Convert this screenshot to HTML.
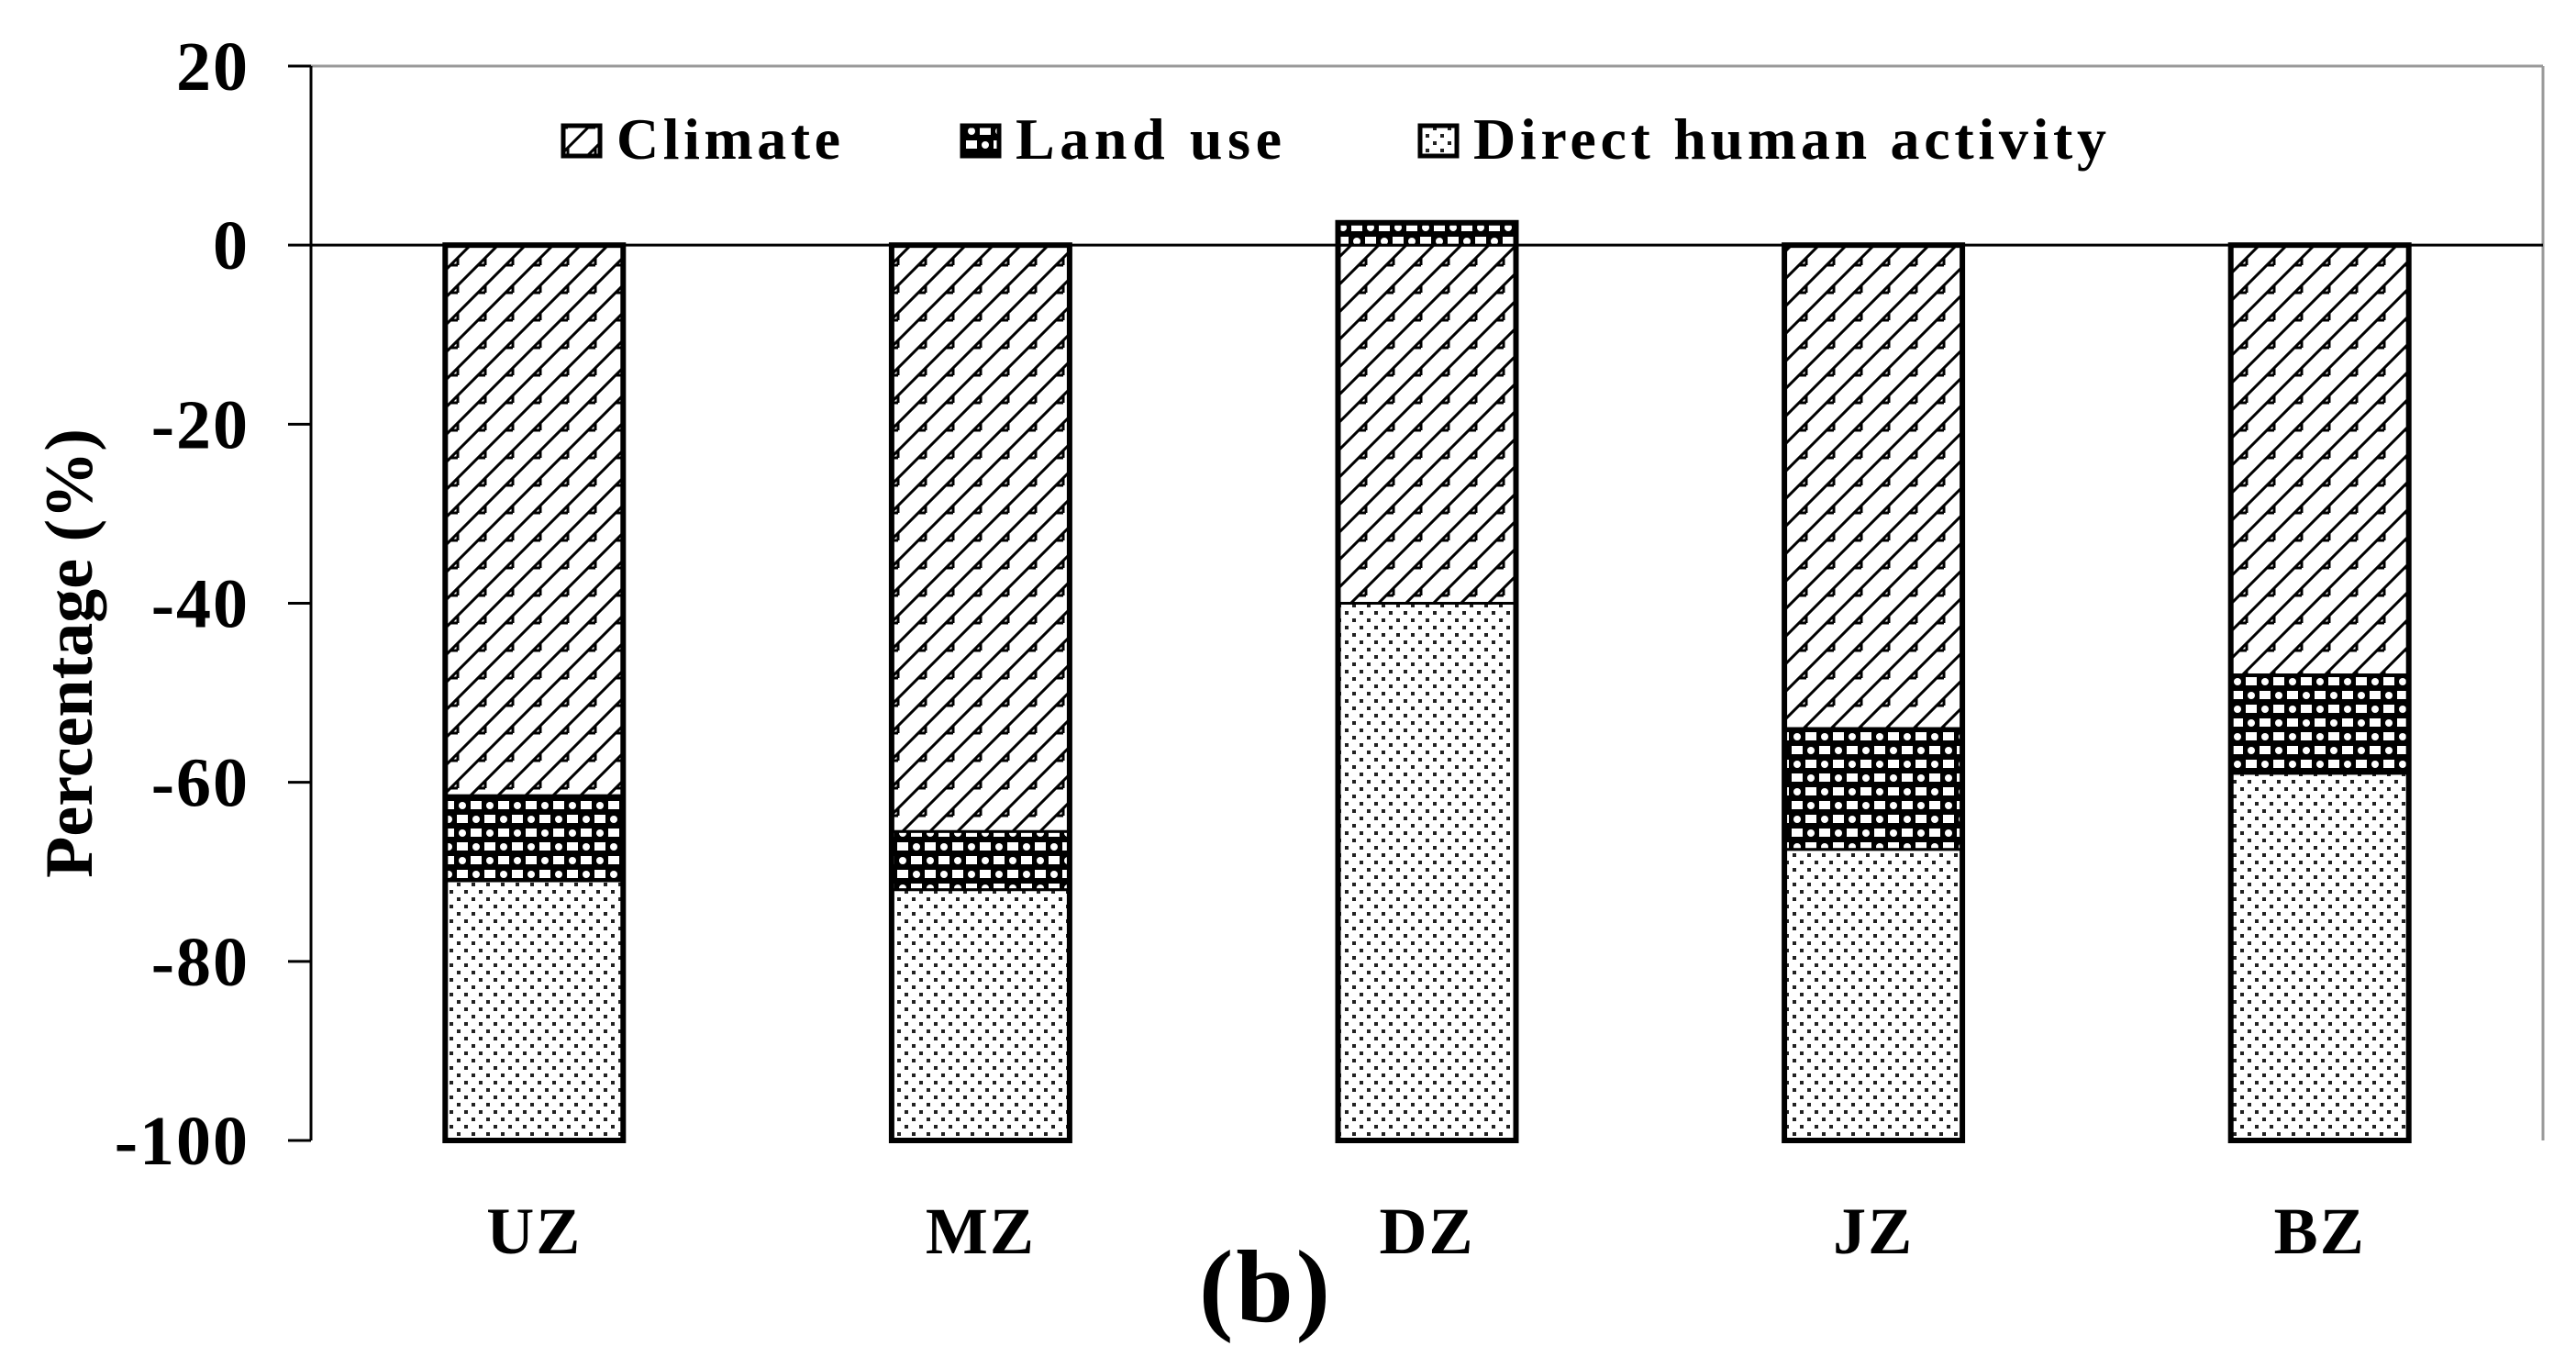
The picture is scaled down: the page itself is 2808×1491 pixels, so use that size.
<!DOCTYPE html>
<html><head><meta charset="utf-8"><style>
html,body{margin:0;padding:0;background:#fff}
svg{display:block}
text{font-family:"Liberation Serif",serif;font-weight:bold;fill:#000}
</style></head><body>
<svg id="chart" width="2808" height="1491" viewBox="0 0 2808 1491" xmlns="http://www.w3.org/2000/svg">
<defs>
<pattern id="pClimate" patternUnits="userSpaceOnUse" width="30" height="30">
<rect width="30" height="30" fill="#fff"/>
<path d="M0 30 L30 0 M-8 8 L8 -8 M22 38 L38 22" stroke="#000" stroke-width="3"/>
<path d="M11 19 l8 0 M19 19 l0 -8" stroke="#000" stroke-width="3"/>
</pattern>
<pattern id="pLand" patternUnits="userSpaceOnUse" width="30" height="30">
<rect width="30" height="30" fill="#000"/>
<rect x="3" y="3" width="12" height="9" fill="#fff"/>
<rect x="18" y="18" width="12" height="9" fill="#fff"/>
<circle cx="24" cy="8" r="4" fill="#fff"/>
<circle cx="9" cy="23" r="4" fill="#fff"/>
</pattern>
<pattern id="pDirect" patternUnits="userSpaceOnUse" width="16" height="16">
<rect width="16" height="16" fill="#fff"/>
<rect x="2" y="2" width="4" height="4" fill="#222"/>
<rect x="10" y="10" width="4" height="4" fill="#222"/>
</pattern>
</defs>
<g id="axes"></g>
<g id="bars"></g>
<g id="legend"></g>
</svg>
<script>
const categories = ["UZ","MZ","DZ","JZ","BZ"];
const climate = [-61.5,-65.5,-40,-54,-48];
const landUse = [-9.5,-6.5,2.5,-13.5,-11];
const direct = [-29,-28,-60,-32.5,-41];
const yTicks = [20,0,-20,-40,-60,-80,-100];

const NS="http://www.w3.org/2000/svg";
const L=339,R=2772,T=72,B=1243,yMin=-100,yMax=20;
function y(v){return T+(yMax-v)/(yMax-yMin)*(B-T);}
const band=(R-L)/categories.length;
function xc(i){return L+band*(i+0.5);}
const bw=194;
function mk(tag,attrs,parent,txt){const e=document.createElementNS(NS,tag);for(const k in attrs)e.setAttribute(k,attrs[k]);if(txt!==undefined)e.textContent=txt;parent.appendChild(e);return e;}
const axes=document.getElementById('axes'),bars=document.getElementById('bars'),leg=document.getElementById('legend');

let e;
e=mk('line',{x1:L,y1:T,x2:R,y2:T,stroke:'#999','stroke-width':3},axes);

e=mk('line',{x1:R,y1:T,x2:R,y2:B,stroke:'#999','stroke-width':3},axes);

e=mk('line',{x1:L,y1:T,x2:L,y2:B,stroke:'#000','stroke-width':3},axes);

e=mk('line',{x1:L,y1:y(0),x2:R,y2:y(0),stroke:'#000','stroke-width':3},axes);

yTicks.forEach(v=>{
  const t=mk('line',{x1:314,y1:y(v),x2:L,y2:y(v),stroke:'#000','stroke-width':3},axes);
  
  const l=mk('text',{x:272,y:y(v)+26,'text-anchor':'end','font-size':76,'letter-spacing':2},axes,String(v));
  
});
e=mk('text',{x:0,y:0,'text-anchor':'middle','font-size':74,transform:'translate(100,712) rotate(-90)'},axes,'Percentage (%)');

categories.forEach((c,i)=>{
  const l=mk('text',{x:xc(i),y:1366,'text-anchor':'middle','font-size':72,'letter-spacing':2},axes,c);
  
});
e=mk('text',{x:1380,y:1440,'text-anchor':'middle','font-size':112,'letter-spacing':3},axes,'(b)');


categories.forEach((c,i)=>{
  const x0=xc(i)-bw/2;
  let neg=0,pos=0;
  const segs=[[climate[i],'pClimate','climate'],[landUse[i],'pLand','land-use'],[direct[i],'pDirect','direct-human']];
  segs.forEach(([v,p,n])=>{
    let a,b;
    if(v<0){a=neg;b=neg+v;neg=b;}else{a=pos;b=pos+v;pos=b;}
    const y1=Math.min(y(a),y(b)),h=Math.abs(y(a)-y(b));
    const r=mk('rect',{x:x0,y:y1,width:bw,height:h,fill:'url(#'+p+')',stroke:'#000','stroke-width':3},bars);
    
    
  });
  const top=y(pos),bot=y(neg);
  const o=mk('rect',{x:x0,y:top,width:bw,height:bot-top,fill:'none',stroke:'#000','stroke-width':6},bars);
  
  
});

const legItems=[['Climate','pClimate',614,244],['Land use','pLand',1049,290],['Direct human activity','pDirect',1548,690]];
legItems.forEach(([t,p,x,w])=>{
  const g=mk('g',{},leg);
  
  
  mk('rect',{x:x,y:137,width:40,height:33,fill:'url(#'+p+')',stroke:'#000','stroke-width':5},g);
  mk('text',{x:x+58,y:173,'font-size':64,textLength:w,lengthAdjust:'spacing'},g,t);
});
</script>
</body></html>
